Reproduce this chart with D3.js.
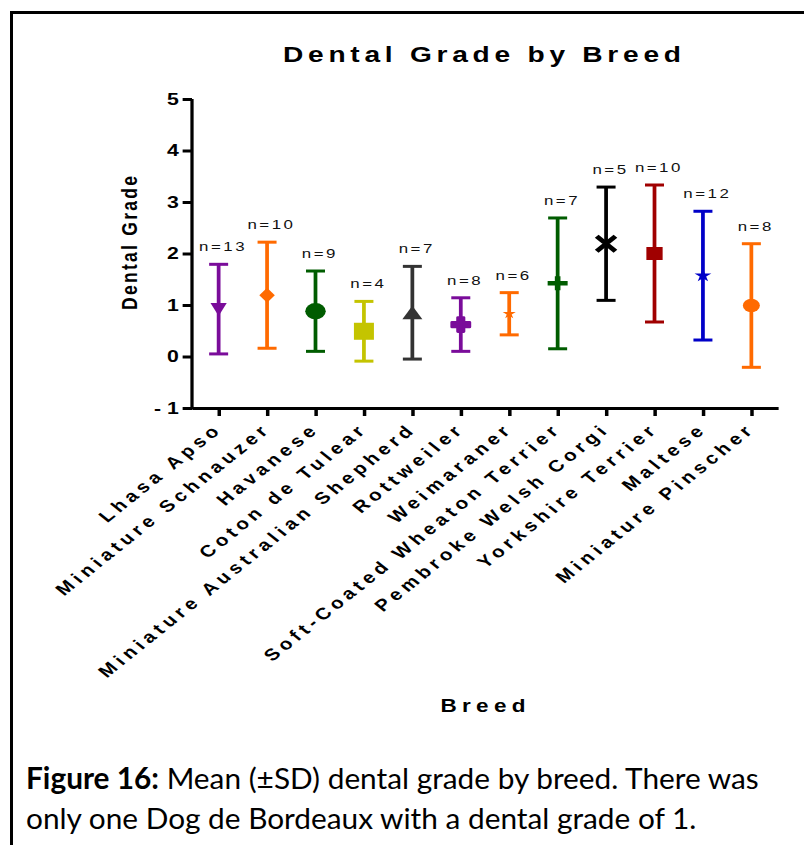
<!DOCTYPE html>
<html><head><meta charset="utf-8">
<script src="https://cdn.jsdelivr.net/npm/d3@7"></script>
<style>
html,body{margin:0;padding:0;background:#fff;}
svg{display:block;}
</style></head>
<body>
<script>
// ---- data ----
const breeds = ["Lhasa Apso","Miniature Schnauzer","Havanese","Coton de Tulear","Miniature Australian Shepherd","Rottweiler","Weimaraner","Soft-Coated Wheaton Terrier","Pembroke Welsh Corgi","Yorkshire Terrier","Maltese","Miniature Pinscher"];
const means = [0.92,1.19,0.88,0.49,0.85,0.62,0.83,1.42,2.19,2.00,1.57,0.99];
const sds   = [0.87,1.03,0.78,0.58,0.90,0.52,0.41,1.27,1.10,1.33,1.25,1.20];
const counts = [13,10,9,4,7,8,6,7,5,10,12,8];
const colors = ["#7a0c9a","#ff6a00","#005c00","#c4c400","#333333","#7a0c9a","#ff6a00","#005c00","#000000","#a00000","#0000c8","#ff6a00"];
const markers = ["triangleDown","diamond","circleBig","squareBig","triangleUp","flower","starSmall","plus","times","square","star","circle"];
const yTicks = [-1,0,1,2,3,4,5];
const titleText = "Dental Grade by Breed";
const yTitle = "Dental Grade";
const xTitle = "Breed";

const W = 804, H = 845;
const SX = 1.25; // the chart is drawn horizontally stretched, like the reference
const svg = d3.select("body").append("svg").attr("width",W).attr("height",H);
const F = "'Liberation Sans', Arial, sans-serif";

// frame
svg.append("path").attr("d",`M11.5,${H} L11.5,12.5 L${W},12.5`).attr("fill","none").attr("stroke","#000").attr("stroke-width",3);

const chart = svg.append("g").attr("transform",`scale(${SX},1)`);

const y = d3.scaleLinear().domain([-1,5]).range([408,99]);
const x = d3.scalePoint().domain(breeds).range([192/SX,778/SX]).padding(0.55);
const axX = 192/SX, axY = y(-1);

// title
chart.append("text").attr("x",482/SX).attr("y",62).attr("text-anchor","middle")
  .attr("font-family",F).attr("font-weight","bold").attr("font-size",22.5)
  .attr("textLength",398/SX).attr("lengthAdjust","spacing").text(titleText);

// y axis
const gy = chart.append("g").attr("transform",`translate(${axX},0)`)
  .call(d3.axisLeft(y).tickValues(yTicks).tickSize(7.5).tickSizeOuter(0).tickPadding(3).tickFormat(d=>d<0?"- "+Math.abs(d):d));
gy.select(".domain").attr("stroke-width",2.6).attr("d",`M0,${axY+1.5}V${y(5)}`);
gy.selectAll(".tick line").attr("stroke-width",3);
gy.selectAll(".tick text").attr("font-family",F).attr("font-weight","bold").attr("font-size",17).attr("fill","#000");

// x axis
const gx = chart.append("g").attr("transform",`translate(0,${axY})`)
  .call(d3.axisBottom(x).tickSize(8).tickSizeOuter(0).tickFormat(""));
gx.select(".domain").attr("stroke-width",3);
gx.selectAll(".tick line").attr("stroke-width",2.8);

// x labels
chart.append("g").selectAll("text").data(breeds).join("text")
  .attr("transform",d=>`translate(${x(d)+4},${axY+22}) rotate(-45)`)
  .attr("text-anchor","end")
  .attr("font-family",F).attr("font-weight","bold").attr("font-size",16.5)
  .attr("letter-spacing",3.9)
  .text(d=>d);

// axis titles
chart.append("text").attr("transform",`translate(${131/SX},${243}) rotate(-90)`)
  .attr("text-anchor","middle").attr("dominant-baseline","middle")
  .attr("font-family",F).attr("font-weight","bold").attr("font-size",17.5)
  .attr("textLength",134).attr("lengthAdjust","spacing").text(yTitle);
chart.append("text").attr("x",483/SX).attr("y",712).attr("text-anchor","middle")
  .attr("font-family",F).attr("font-weight","bold").attr("font-size",18)
  .attr("textLength",85/SX).attr("lengthAdjust","spacing").text(xTitle);

// error bars
const data = breeds.map((b,i)=>({b,m:means[i],s:sds[i],n:counts[i],c:colors[i],mk:markers[i]}));
const eg = chart.append("g").selectAll("g").data(data).join("g").attr("transform",d=>`translate(${x(d.b)},0)`);
eg.append("line").attr("y1",d=>y(d.m+d.s)).attr("y2",d=>y(d.m-d.s)).attr("stroke",d=>d.c).attr("stroke-width",3);
eg.append("line").attr("x1",-7.6).attr("x2",7.6).attr("y1",d=>y(d.m+d.s)).attr("y2",d=>y(d.m+d.s)).attr("stroke",d=>d.c).attr("stroke-width",3);
eg.append("line").attr("x1",-7.6).attr("x2",7.6).attr("y1",d=>y(d.m-d.s)).attr("y2",d=>y(d.m-d.s)).attr("stroke",d=>d.c).attr("stroke-width",3);
eg.append("text").attr("x",3.5).attr("y",d=>y(d.m+d.s)-13).attr("text-anchor","middle")
  .attr("font-family",F).attr("font-size",13.5).attr("letter-spacing",2).attr("fill","#111")
  .text(d=>"n="+d.n);

// markers
const sym = (t,s)=>d3.symbol().type(t).size(s)();
eg.each(function(d){
  const g = d3.select(this).append("g").attr("transform",`translate(0,${y(d.m)})`);
  const c = d.c;
  switch(d.mk){
    case "triangleDown": g.append("path").attr("d","M-6.5,-6L6.5,-6L0,7Z").attr("fill",c); break;
    case "triangleUp": g.append("path").attr("d","M0,-7L8,6.5L-8,6.5Z").attr("fill",c); break;
    case "diamond": g.append("path").attr("d","M0,-7.5L6.2,0L0,7.5L-6.2,0Z").attr("fill",c); break;
    case "circleBig": g.append("circle").attr("r",8.2).attr("fill",c); break;
    case "circle": g.append("circle").attr("r",6.8).attr("fill",c); break;
    case "squareBig": g.append("rect").attr("x",-8).attr("y",-8.5).attr("width",16).attr("height",17).attr("fill",c); break;
    case "square": g.append("rect").attr("x",-6.5).attr("y",-6.5).attr("width",13).attr("height",13).attr("fill",c); break;
    case "flower": g.append("path").attr("d",sym(d3.symbolCross,110)).attr("fill",c).attr("stroke",c).attr("stroke-width",2.6).attr("stroke-linejoin","round"); break;
    case "starSmall": g.append("path").attr("d",sym(d3.symbolStar,34)).attr("fill",c); break;
    case "star": g.append("path").attr("d",sym(d3.symbolStar,56)).attr("fill",c); break;
    case "plus": g.append("path").attr("d","M-8,0H8M0,-7V7").attr("stroke",c).attr("stroke-width",4.5); break;
    case "times": g.append("path").attr("d","M-7.5,-7.5L7.5,7.5M-7.5,7.5L7.5,-7.5").attr("stroke",c).attr("stroke-width",4.2); break;
  }
});

// caption
const CF = "Lato, 'Open Sans', sans-serif";
const cap1 = svg.append("text").attr("x",26).attr("y",789).attr("font-family",CF).attr("font-size",26).attr("fill","#000");
cap1.append("tspan").attr("font-weight","bold").text("Figure 16:");
cap1.append("tspan").text(" Mean (±SD) dental grade by breed. There was");
const cap2 = svg.append("text").attr("x",26).attr("y",829).attr("font-family",CF).attr("font-size",26).attr("fill","#000")
  .text("only one Dog de Bordeaux with a dental grade of 1.");
const w1 = cap1.node().getComputedTextLength();
const fs = 26*733/w1;
cap1.attr("font-size",fs); cap2.attr("font-size",fs);
</script>
</body></html>
